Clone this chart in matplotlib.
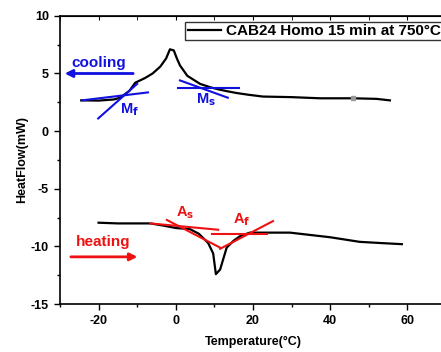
import numpy as np
import matplotlib.pyplot as plt
from matplotlib.ticker import MultipleLocator

plt.rcParams['font.family'] = ['Liberation Sans', 'DejaVu Sans']
plt.rcParams['font.weight'] = 'bold'
plt.rcParams['axes.unicode_minus'] = False
plt.rcParams['mathtext.default'] = 'bf'

# cooling curve (upper)
cool_T = [-24.5, -20, -16, -14.4, -12, -10.5, -8, -6, -4, -2.5, -1.5, -0.5, 0.3, 1.1,
          3, 6.3, 9, 11.4, 13.5, 15.9, 19, 22.6, 30, 37.4, 46, 52, 55.5]
cool_HF = [2.67, 2.65, 2.75, 2.9, 3.5, 4.2, 4.6, 5.0, 5.6, 6.3, 7.1, 7.0, 6.3, 5.7,
           4.8, 4.1, 3.8, 3.6, 3.45, 3.3, 3.15, 3.0, 2.95, 2.85, 2.85, 2.8, 2.67]
# heating curve (lower)
heat_T = [-20, -15, -10, -6.6, -3, 0, 3.7, 6, 8.4, 9.7, 10.4, 11.5, 13.2, 15, 16.7,
          19.2, 25, 29.6, 40, 47.7, 53, 58.6]
heat_HF = [-7.94, -8.0, -8.0, -8.0, -8.2, -8.4, -8.5, -8.9, -9.7, -10.6, -12.4, -12.0,
           -10.1, -9.5, -9.1, -8.8, -8.8, -8.8, -9.2, -9.6, -9.7, -9.8]

# tangent lines
mf_steep_T, mf_steep_HF = [-20.1, -10], [1.1, 4.1]
mf_flat_T, mf_flat_HF = [-24.3, -7.2], [2.67, 3.36]
ms_steep_T, ms_steep_HF = [1.1, 13.5], [4.4, 2.9]
ms_flat_T, ms_flat_HF = [0.6, 16.4], [3.7, 3.7]
as_steep_T, as_steep_HF = [-2.3, 11.5], [-7.7, -10.1]
as_flat_T, as_flat_HF = [-6.6, 11], [-8.0, -8.55]
af_flat_T, af_flat_HF = [9.4, 23.7], [-8.9, -8.9]
af_steep_T, af_steep_HF = [11.5, 25.2], [-10.2, -7.8]

fig = plt.figure(figsize=(4.41, 3.52), dpi=100)
ax = fig.add_axes([0.136, 0.136, 0.875, 0.819])

ax.plot(cool_T, cool_HF, color='black', lw=1.6, label='CAB24 Homo 15 min at 750°C')
ax.plot(heat_T, heat_HF, color='black', lw=1.6)
ax.plot([46], [2.85], 's', color='#999999', ms=3.5)

for t, h in [(mf_steep_T, mf_steep_HF), (mf_flat_T, mf_flat_HF),
             (ms_steep_T, ms_steep_HF), (ms_flat_T, ms_flat_HF)]:
    ax.plot(t, h, color='#1010e0', lw=1.5)
for t, h in [(as_steep_T, as_steep_HF), (as_flat_T, as_flat_HF),
             (af_flat_T, af_flat_HF), (af_steep_T, af_steep_HF)]:
    ax.plot(t, h, color='#ee1111', lw=1.5)

# labels and arrows
ax.annotate('', xy=(-29.5, 5.0), xytext=(-10.3, 5.0),
            arrowprops=dict(arrowstyle='-|>', color='#1010e0', lw=2, mutation_scale=11))
ax.text(-27, 5.9, 'cooling', color='#1010e0', fontsize=11, fontweight='bold', va='center')
ax.annotate('', xy=(-9.2, -10.9), xytext=(-27.9, -10.9),
            arrowprops=dict(arrowstyle='-|>', color='#ee1111', lw=2, mutation_scale=11))
ax.text(-25.8, -9.6, 'heating', color='#ee1111', fontsize=11, fontweight='bold', va='center')
ax.text(-14.5, 1.9, r'M$_\mathbf{f}$', color='#1010e0', fontsize=10.5, fontweight='bold', va='center')
ax.text(5.3, 2.7, r'M$_\mathbf{s}$', color='#1010e0', fontsize=10.5, fontweight='bold', va='center')
ax.text(0, -7.1, r'A$_\mathbf{s}$', color='#ee1111', fontsize=10.5, fontweight='bold', va='center')
ax.text(14.8, -7.7, r'A$_\mathbf{f}$', color='#ee1111', fontsize=10.5, fontweight='bold', va='center')

ax.set_xlim(-30, 70)
ax.set_ylim(-15, 10)
ax.xaxis.set_major_locator(MultipleLocator(20))
ax.xaxis.set_minor_locator(MultipleLocator(10))
ax.yaxis.set_major_locator(MultipleLocator(5))
ax.yaxis.set_minor_locator(MultipleLocator(2.5))
ax.tick_params(which='major', direction='out', length=4.5, width=1, labelsize=9)
ax.tick_params(which='minor', direction='out', length=2.5, width=1)
for lab in ax.get_xticklabels() + ax.get_yticklabels():
    lab.set_fontweight('bold')
for sp in ax.spines.values():
    sp.set_linewidth(1.2)

top = ax.secondary_xaxis('top')
top.xaxis.set_major_locator(MultipleLocator(20))
top.xaxis.set_minor_locator(MultipleLocator(10))
top.tick_params(which='both', direction='in', labeltop=False, length=3)
right = ax.secondary_yaxis('right')
right.yaxis.set_major_locator(MultipleLocator(5))
right.tick_params(which='both', direction='in', labelright=False, length=3)

ax.set_xlabel('Temperature(°C)', fontsize=9, fontweight='bold', labelpad=6)
ax.set_ylabel('HeatFlow(mW)', fontsize=9, fontweight='bold', labelpad=2)

leg = ax.legend(loc='upper right', bbox_to_anchor=(0.993, 0.98), fontsize=11,
                frameon=True, fancybox=False, edgecolor='black', handlelength=2.2,
                borderpad=0.15, handletextpad=0.3, borderaxespad=0)
leg.get_frame().set_linewidth(1)
for t in leg.get_texts():
    t.set_fontweight('bold')

fig.savefig('out.png', dpi=100)
